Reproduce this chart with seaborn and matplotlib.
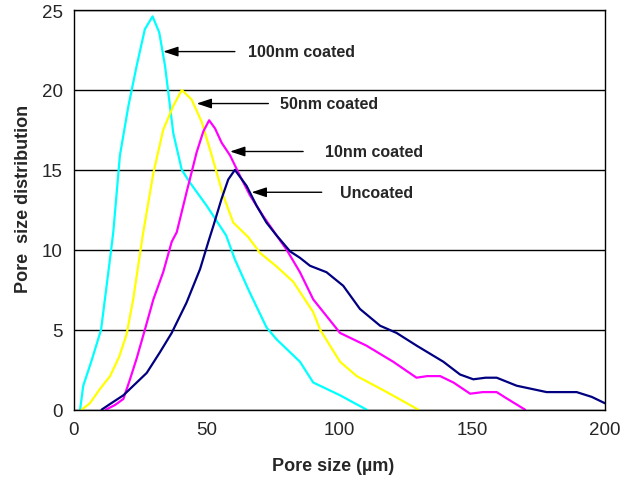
import numpy as np
import pandas as pd
import matplotlib
matplotlib.use("Agg")
import matplotlib.pyplot as plt
import seaborn as sns

# pore size (um) / distribution
x_100 = [2.3, 3.5, 6.5, 10.2, 14.0, 14.8, 17.3, 20.5, 23.6, 26.7, 29.6, 32.1, 34.3, 37.4, 40.6, 43.7,
         50.0, 57.3, 60.6, 66.0, 72.5, 76.3, 85.1, 90.1, 100.2, 110.2]
y_100 = [0.0, 1.5, 3.0, 5.0, 10.0, 11.1, 15.9, 19.0, 21.5, 23.8, 24.6, 23.6, 21.5, 17.3, 15.0, 14.2,
         12.75, 10.9, 9.4, 7.4, 5.15, 4.4, 3.0, 1.7, 0.9, 0.0]

x_50 = [2.9, 6.0, 9.8, 13.6, 17.0, 19.8, 22.3, 24.9, 26.1, 29.9, 33.6, 37.4, 40.6, 44.3, 48.1, 51.9,
        56.2, 60.0, 65.6, 70.1, 76.0, 82.6, 90.1, 92.7, 100.2, 106.5, 117.8, 129.7]
y_50 = [0.0, 0.4, 1.3, 2.1, 3.3, 4.7, 6.9, 9.8, 11.1, 14.8, 17.5, 19.0, 20.0, 19.4, 18.0, 15.9,
        13.4, 11.7, 10.8, 9.8, 9.0, 8.0, 6.1, 5.0, 3.0, 2.1, 1.1, 0.0]

x_10 = [12.0, 15.5, 18.6, 21.1, 23.6, 26.7, 29.9, 33.6, 36.8, 38.7, 42.4, 46.2, 48.7, 50.9, 53.1, 55.6,
        58.8, 62.6, 66.3, 71.3, 76.3, 80.1, 85.1, 90.1, 100.2, 110.2, 120.2, 129.0, 133.0, 137.9, 142.9,
        149.2, 154.0, 159.2, 163.0, 169.9]
y_10 = [0.0, 0.3, 0.67, 1.9, 3.2, 5.0, 6.9, 8.6, 10.5, 11.1, 13.6, 16.1, 17.4, 18.1, 17.6, 16.7,
        15.9, 14.6, 13.4, 12.1, 10.9, 10.0, 8.6, 6.9, 4.8, 4.0, 3.0, 2.0, 2.1, 2.1, 1.7,
        1.0, 1.1, 1.1, 0.7, 0.0]

x_un = [10.4, 14.0, 18.6, 23.0, 27.4, 32.4, 36.8, 42.4, 47.5, 50.6, 52.5, 55.6, 58.1, 60.6, 65.0, 68.8,
        72.5, 76.3, 81.4, 85.1, 88.9, 95.1, 101.4, 107.7, 115.3, 121.5, 129.1, 139.1, 145.4, 150.4,
        155.0, 159.2, 166.7, 178.0, 189.3, 195.0, 200.0]
y_un = [0.0, 0.4, 0.9, 1.6, 2.3, 3.6, 4.8, 6.7, 8.8, 10.5, 11.5, 13.2, 14.4, 15.0, 14.0, 12.75,
        11.7, 10.9, 9.9, 9.5, 9.0, 8.6, 7.75, 6.3, 5.25, 4.8, 4.0, 3.0, 2.2, 1.9,
        2.0, 2.0, 1.5, 1.1, 1.1, 0.8, 0.4]

labels = ["100nm coated", "50nm coated", "10nm coated", "Uncoated"]
colors = ["#00FFFF", "#FFFF00", "#FF00FF", "#000080"]
# arrow tip (x, y), tail x, text start x
arrow_tips = [(33.6, 22.4), (46.2, 19.15), (58.8, 16.15), (66.9, 13.6)]
arrow_tails = [60.6, 73.2, 86.3, 93.3]
text_x = [65.6, 77.6, 94.5, 100.2]

sns.set_style("white")
plt.rcParams['font.family'] = ['Liberation Sans', 'DejaVu Sans']

fig = plt.figure(figsize=(6.35, 4.81), dpi=100)
ax = fig.add_axes([0.1165, 0.1462, 0.8363, 0.8309])

series = [(x_100, y_100), (x_50, y_50), (x_10, y_10), (x_un, y_un)]
for (xs, ys), lab, c in zip(series, labels, colors):
    df = pd.DataFrame({"x": xs, "y": ys})
    sns.lineplot(data=df, x="x", y="y", ax=ax, color=c, linewidth=1.6, sort=False, estimator=None)

for lab, tip, tail, tx in zip(labels, arrow_tips, arrow_tails, text_x):
    ax.annotate("", xy=tip, xytext=(tail, tip[1]),
                arrowprops=dict(arrowstyle="-|>,head_length=0.9,head_width=0.3", color="black", lw=1.0,
                                shrinkA=0, shrinkB=0))
    ax.text(tx, tip[1], lab, fontsize=11.5, fontweight="bold", va="center", ha="left")

ax.set_xlim(0, 200)
ax.set_ylim(0, 25)
ax.set_xticks([0, 50, 100, 150, 200])
ax.set_yticks([0, 5, 10, 15, 20, 25])
ax.yaxis.grid(True, color="black", linewidth=1.0)
ax.xaxis.grid(False)
ax.set_axisbelow(True)
for s in ax.spines.values():
    s.set_color("black")
    s.set_linewidth(1.0)
ax.tick_params(axis="x", direction="in", length=4, color="black", labelsize=13.5, pad=8)
ax.tick_params(axis="y", length=0, labelsize=13.5, pad=8)
ax.set_xlabel("Pore size (\u00b5m)", fontsize=13, fontweight="bold")
ax.set_ylabel("Pore  size distribution", fontsize=13, fontweight="bold")
ax.xaxis.set_label_coords(0.488, -0.118)
ax.yaxis.set_label_coords(-0.079, 0.529)

fig.savefig("out.png", dpi=100)
